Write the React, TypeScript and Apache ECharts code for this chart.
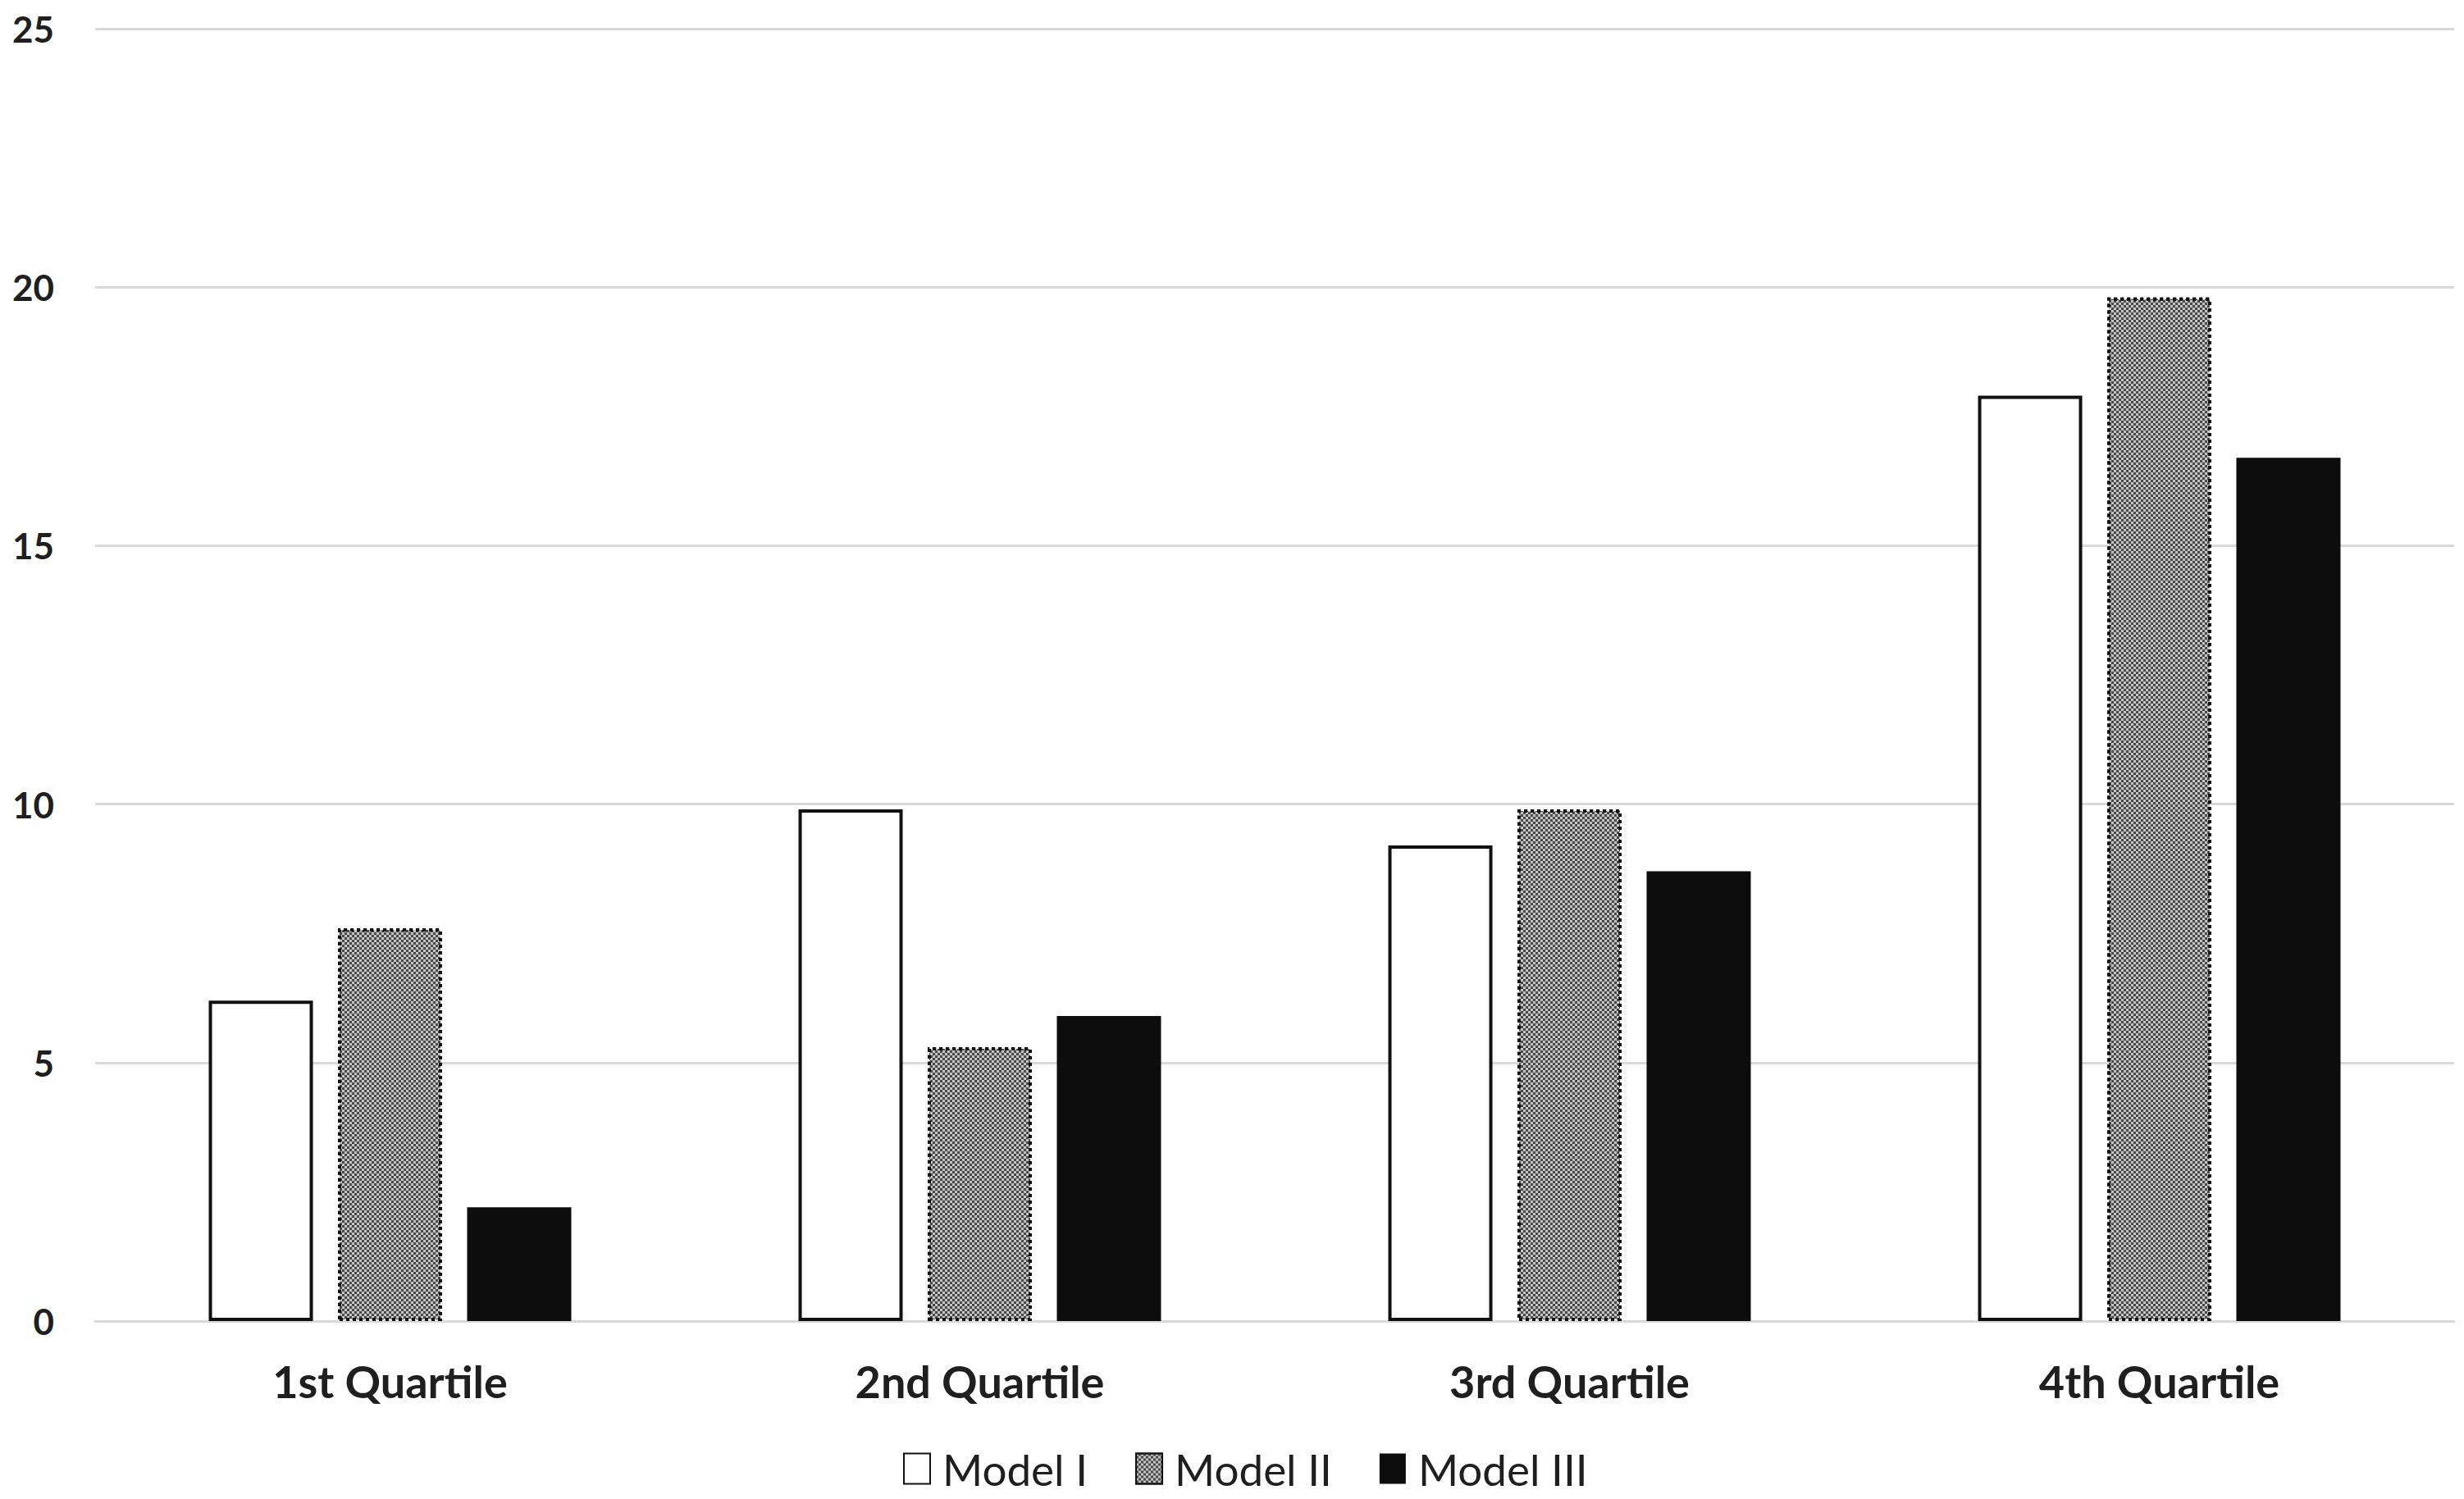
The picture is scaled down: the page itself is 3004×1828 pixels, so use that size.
import React, { useEffect, useRef } from "react";
import * as echarts from "echarts";

const categories = ["1st Quartile", "2nd Quartile", "3rd Quartile", "4th Quartile"];
const seriesNames = ["Model I", "Model II", "Model III"];
const modelI = [6.2, 9.9, 9.2, 17.9];
const modelII = [7.6, 5.3, 9.9, 19.8];
const modelIII = [2.2, 5.9, 8.7, 16.7];
const yTicks = { min: 0, max: 25, interval: 5 };

export default function App() {
  const ref = useRef<HTMLDivElement>(null);
  useEffect(() => {
    if (!ref.current) return;
    const chart = echarts.init(ref.current, null, { renderer: "svg" });
    const barWidth = 127;
    chart.setOption({
      animation: false,
      backgroundColor: "#ffffff",
      grid: { left: 116, right: 12, top: 35, bottom: 217, containLabel: false },
      legend: {
        left: 1096,
        top: 1758,
        itemWidth: 32,
        itemHeight: 37,
        itemGap: 58,
        icon: "rect",
        data: seriesNames,
        textStyle: {
          fontFamily: "Lato",
          fontSize: 53,
          lineHeight: 56,
          color: "#1f1f1f",
          padding: [0, 0, 0, 10],
        },
      },
      xAxis: {
        type: "category",
        data: categories,
        axisLine: { show: true, lineStyle: { color: "#d9d9d9", width: 3 } },
        axisTick: { show: false },
        axisLabel: {
          fontFamily: "Lato",
          fontWeight: "bold",
          fontSize: 54,
          color: "#1f1f1f",
          margin: 46,
        },
      },
      yAxis: {
        type: "value",
        min: yTicks.min,
        max: yTicks.max,
        interval: yTicks.interval,
        axisLine: { show: false },
        axisTick: { show: false },
        splitLine: { lineStyle: { color: "#d9d9d9", width: 3 } },
        axisLabel: {
          fontFamily: "Lato",
          fontWeight: "bold",
          fontSize: 44,
          color: "#1f1f1f",
          margin: 50,
        },
      },
      series: [
        {
          name: seriesNames[0],
          type: "bar",
          data: modelI,
          barWidth,
          barGap: "24%",
          itemStyle: { color: "#ffffff", borderColor: "#111111", borderWidth: 4 },
        },
        {
          name: seriesNames[1],
          type: "bar",
          data: modelII,
          barWidth,
          barGap: "24%",
          itemStyle: {
            color: "#c4c4c4",
            borderColor: "#111111",
            borderWidth: 4,
            borderType: "dotted",
            decal: {
              symbol: "rect",
              symbolSize: 1,
              color: "#4a4a4a",
              dashArrayX: [
                [3, 3],
                [0, 3, 3, 0],
              ],
              dashArrayY: [3, 0],
              rotation: 0,
            },
          },
        },
        {
          name: seriesNames[2],
          type: "bar",
          data: modelIII,
          barWidth,
          barGap: "24%",
          itemStyle: { color: "#0d0d0d", borderColor: "#0d0d0d", borderWidth: 0 },
        },
      ],
    });
    return () => chart.dispose();
  }, []);
  return (
    <div
      ref={ref}
      style={{ position: "absolute", left: 0, top: 0, width: 3004, height: 1828, background: "#fff" }}
    />
  );
}
